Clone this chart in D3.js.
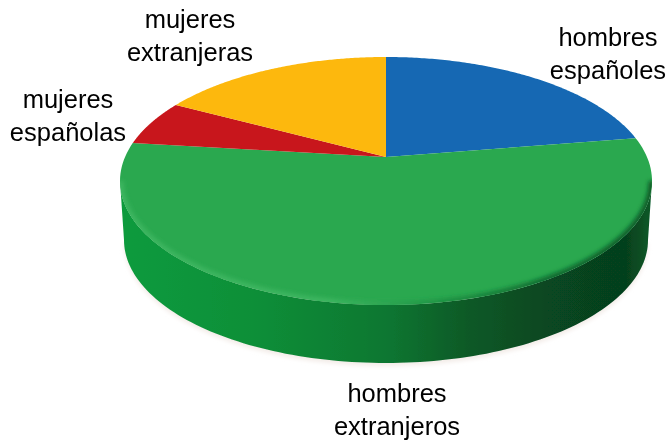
<!DOCTYPE html>
<html lang="es">
<head>
<meta charset="utf-8">
<title>Pie</title>
<script src="https://cdn.jsdelivr.net/npm/d3@7"></script>
<style>
html,body{margin:0;padding:0;background:#fff}
svg{display:block}
text{font-family:"Liberation Sans",Arial,sans-serif;font-size:25.5px;fill:#000}
</style>
</head>
<body>
<svg id="c" width="670" height="442"></svg>
<script>
const categories = ["hombres españoles","hombres extranjeros","mujeres españolas","mujeres extranjeras"];
const values = [22.4, 54.5, 6.0, 17.1];
const sliceColors = ["#1268b3","#2aa84f","#c8191c","#fdb80a"];
const labelX = [608, 397, 68, 190];
const labelY = [46, 402, 108, 27.5];
const labelGap = 33.2;

const W = 670, H = 442;
const svg = d3.select("#c");
const defs = svg.append("defs");

// top-face geometry: a circle seen in perspective
const cx = 386, cy = 181, rx = 266, ry = 124;
const apexY = 157;
const k = (apexY - cy) / ry;
const sx = d3.scaleLinear().domain([-1,1]).range([cx-rx,cx+rx]);
const sy = d3.scaleLinear().domain([-1,1]).range([cy-ry,cy+ry]);
const project = (r,a) => {
  const u = r*Math.sin(a), v = -r*Math.cos(a);
  const d = 1 + k*v;
  return [sx(u*Math.sqrt(1-k*k)/d), sy((v+k)/d)];
};
const line = d3.line();
const rimPts = (a0,a1) => d3.range(0,121).map(i => project(1,a0+(a1-a0)*i/120));

const pie = d3.pie().sort(null).value(d=>d);
const arcs = pie(values);
const color = d3.scaleOrdinal().domain(categories).range(sliceColors);

// side wall gradient
const grad = defs.append("linearGradient").attr("id","side").attr("x1","0").attr("x2","1").attr("y1","0").attr("y2","0");
[[0,"#0f9b3e"],[0.25,"#0e8f38"],[0.5,"#0b7731"],[0.65,"#095a27"],[0.8,"#074721"],[0.95,"#063f1d"],[1,"#0a5a28"]]
  .forEach(s=>grad.append("stop").attr("offset",s[0]).attr("stop-color",s[1]));
const bevel = defs.append("linearGradient").attr("id","bevel").attr("gradientUnits","userSpaceOnUse")
  .attr("x1",cx-rx).attr("x2",cx+rx).attr("y1",0).attr("y2",0);
[[0,"#3cb660"],[0.4,"#3cb660"],[0.6,"#1f9344"],[0.8,"#0f6a30"],[1,"#0b5a28"]]
  .forEach(s=>bevel.append("stop").attr("offset",s[0]).attr("stop-color",s[1]));
defs.append("filter").attr("id","soft").append("feGaussianBlur").attr("stdDeviation",0.7);
const bf = defs.append("filter").attr("id","softer").attr("x","-5%").attr("y","-5%").attr("width","110%").attr("height","110%");
bf.append("feGaussianBlur").attr("stdDeviation",2);
defs.append("filter").attr("id","textSoft").append("feGaussianBlur").attr("stdDeviation",0.3);
defs.append("clipPath").attr("id","topClip").append("ellipse")
  .attr("cx",cx).attr("cy",cy).attr("rx",rx).attr("ry",ry);

// wall
const bcx = 386, bcy = 240, brx = 262, bry = 123;
const bottomPt = t => [bcx + brx*Math.cos(t), bcy + bry*Math.sin(t)];
const topPt = t => [cx + rx*Math.cos(t), cy + ry*Math.sin(t)];
const front = d3.range(0,121).map(i=>topPt(Math.PI*i/120));
const back = d3.range(0,121).map(i=>bottomPt(Math.PI*(1-i/120)));
const wall = front.concat(back);

svg.append("path").attr("d",line(back)+"Z").attr("transform","translate(0,3)")
  .attr("fill","#f3ece8").attr("filter","url(#softer)");

svg.append("path").attr("class","wall").attr("d",line(wall)+"Z").attr("fill","url(#side)").attr("filter","url(#soft)");

// top face slices
const g = svg.append("g").attr("filter","url(#soft)");
g.selectAll("path.slice").data(arcs).join("path")
  .attr("class","slice")
  .attr("fill",(d,i)=>color(categories[i]))
  .attr("d",d => line([project(0,0)].concat(rimPts(d.startAngle,d.endAngle)))+"Z");

// rim bevel on the visible front edge of the green slice
svg.append("g").attr("clip-path","url(#topClip)")
  .append("path").attr("d",line(front)).attr("fill","none")
  .attr("stroke","url(#bevel)").attr("stroke-width",7).attr("filter","url(#softer)");

// labels
const labels = svg.append("g").attr("filter","url(#textSoft)");
categories.forEach((c,i)=>{
  const t = labels.append("text").attr("text-anchor","middle");
  c.split(" ").forEach((w,j)=>t.append("tspan").attr("x",labelX[i]).attr("y",labelY[i]+j*labelGap).text(w));
});
</script>
</body>
</html>
